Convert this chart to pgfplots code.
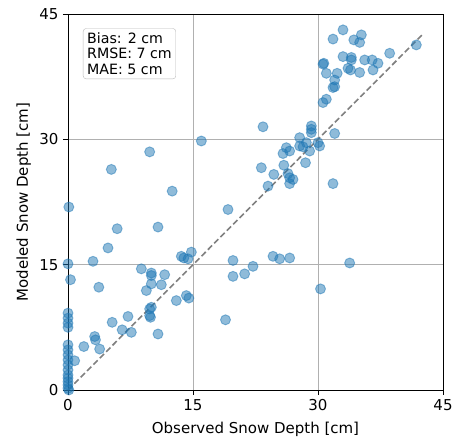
\documentclass[border=0pt]{standalone}
\usepackage{pgfplots}
\pgfplotsset{compat=1.18}
\usepackage{fontspec}
\setmainfont{DejaVu Sans}
\definecolor{mplblue}{HTML}{1F77B4}
\definecolor{gridgray}{HTML}{B0B0B0}
\begin{document}
\begin{tikzpicture}
\begin{axis}[
  scale only axis,
  width=375pt, height=376pt,
  xmin=0, xmax=45, ymin=0, ymax=45,
  xtick={0,15,30,45}, ytick={0,15,30,45},
  xtick pos=bottom, ytick pos=left,
  tick align=outside,
  major tick length=5pt,
  every tick/.style={black, line width=0.8pt},
  grid=major,
  major grid style={gridgray, line width=0.8pt},
  axis line style={black, line width=0.8pt},
  tick label style={font=\fontsize{15}{17}\selectfont},
  xticklabel style={yshift=-1pt},
  yticklabel style={xshift=-1pt},
  label style={font=\fontsize{15}{17}\selectfont},
  /pgf/number format/assume math mode=true,
  xlabel={Observed Snow Depth [cm]},
  ylabel={Modeled Snow Depth [cm]},
  xlabel style={yshift=-4pt},
  ylabel style={yshift=1.5pt},
  clip=true,
]
\addplot[only marks, mark=*, mark size=5pt,
  mark options={fill=mplblue, draw=mplblue, fill opacity=0.5, draw opacity=0.5, line width=0.9pt}]
coordinates {
(0.1,21.9)(0.0,15.1)(0.3,13.2)
(0.0,9.2)(0.0,8.6)(0.0,8.0)(0.0,7.5)(0.0,5.4)(0.0,4.8)(0.0,4.2)(0.0,3.6)(0.0,3.0)(0.0,2.4)(0.0,1.8)(0.0,1.4)(0.0,1.0)(0.0,0.6)(0.0,0.2)(0.1,0.0)
(0.8,3.5)(1.9,5.2)(3.2,6.4)(3.3,6.0)(3.8,4.9)(5.3,8.1)(6.5,7.2)(7.6,6.9)(7.2,8.8)(10.8,6.7)
(3.0,15.4)(3.7,12.3)(4.8,17.0)(5.9,19.3)(5.2,26.4)(9.8,28.5)(10.8,19.5)(12.5,23.8)(16.0,29.8)
(8.8,14.5)(10.0,14.0)(10.0,13.7)(11.6,13.8)(10.0,12.7)(11.2,12.6)(9.4,11.9)
(13.6,16.0)(13.9,15.8)(14.4,15.7)(14.8,16.5)(14.2,11.3)(13.0,10.7)(14.5,11.0)
(10.0,9.9)(9.8,9.7)(9.8,8.9)(9.9,8.7)
(19.2,21.6)(19.8,15.5)(19.8,13.6)(21.2,13.9)(22.2,14.8)(24.6,16.0)(25.4,15.7)(26.6,15.8)(33.8,15.2)(30.3,12.1)(18.9,8.4)
(23.4,31.5)(29.2,31.6)(29.2,31.2)(29.2,30.8)(32.0,30.7)(27.8,30.2)(28.6,29.6)(27.8,29.2)(28.2,29.1)(30.0,29.6)(30.2,29.2)(29.0,28.6)(26.2,29.0)(26.6,28.6)(25.8,28.3)(28.5,27.2)(23.2,26.6)(25.9,26.9)(24.7,25.8)(26.4,25.9)(26.6,25.4)(27.0,25.2)(26.6,24.7)(24.0,24.4)(31.8,24.7)
(33.0,43.1)(31.8,42.0)(35.2,42.5)(35.0,41.6)(34.3,41.9)(41.8,41.3)(38.6,40.3)(33.0,39.9)(34.0,39.8)(34.0,39.5)(35.6,39.5)(36.5,39.5)(37.2,39.1)(30.6,39.0)(30.7,39.1)(33.6,38.5)(33.9,38.3)(36.6,38.3)(35.0,38.0)(31.0,37.9)(32.3,37.9)(32.0,37.1)(31.8,36.2)(32.0,36.3)(31.0,34.8)(30.6,34.4)
};
\addplot[gray, line width=1.6pt, dash pattern=on 6pt off 3pt] coordinates {(0,0) (42.6,42.6)};
\node[anchor=north west, draw=gray!55, fill=white, fill opacity=0.8, text opacity=1, rounded corners=3pt, inner sep=4pt, align=left, font=\fontsize{14.2}{15.7}\selectfont]
  at (rel axis cs:0.04,0.962) {Bias: 2 cm\\RMSE: 7 cm\\MAE: 5 cm};
\end{axis}
\path (current axis.south west) +(-68pt,-52pt) (current axis.north east) +(14pt,14pt);
\end{tikzpicture}
\end{document}
